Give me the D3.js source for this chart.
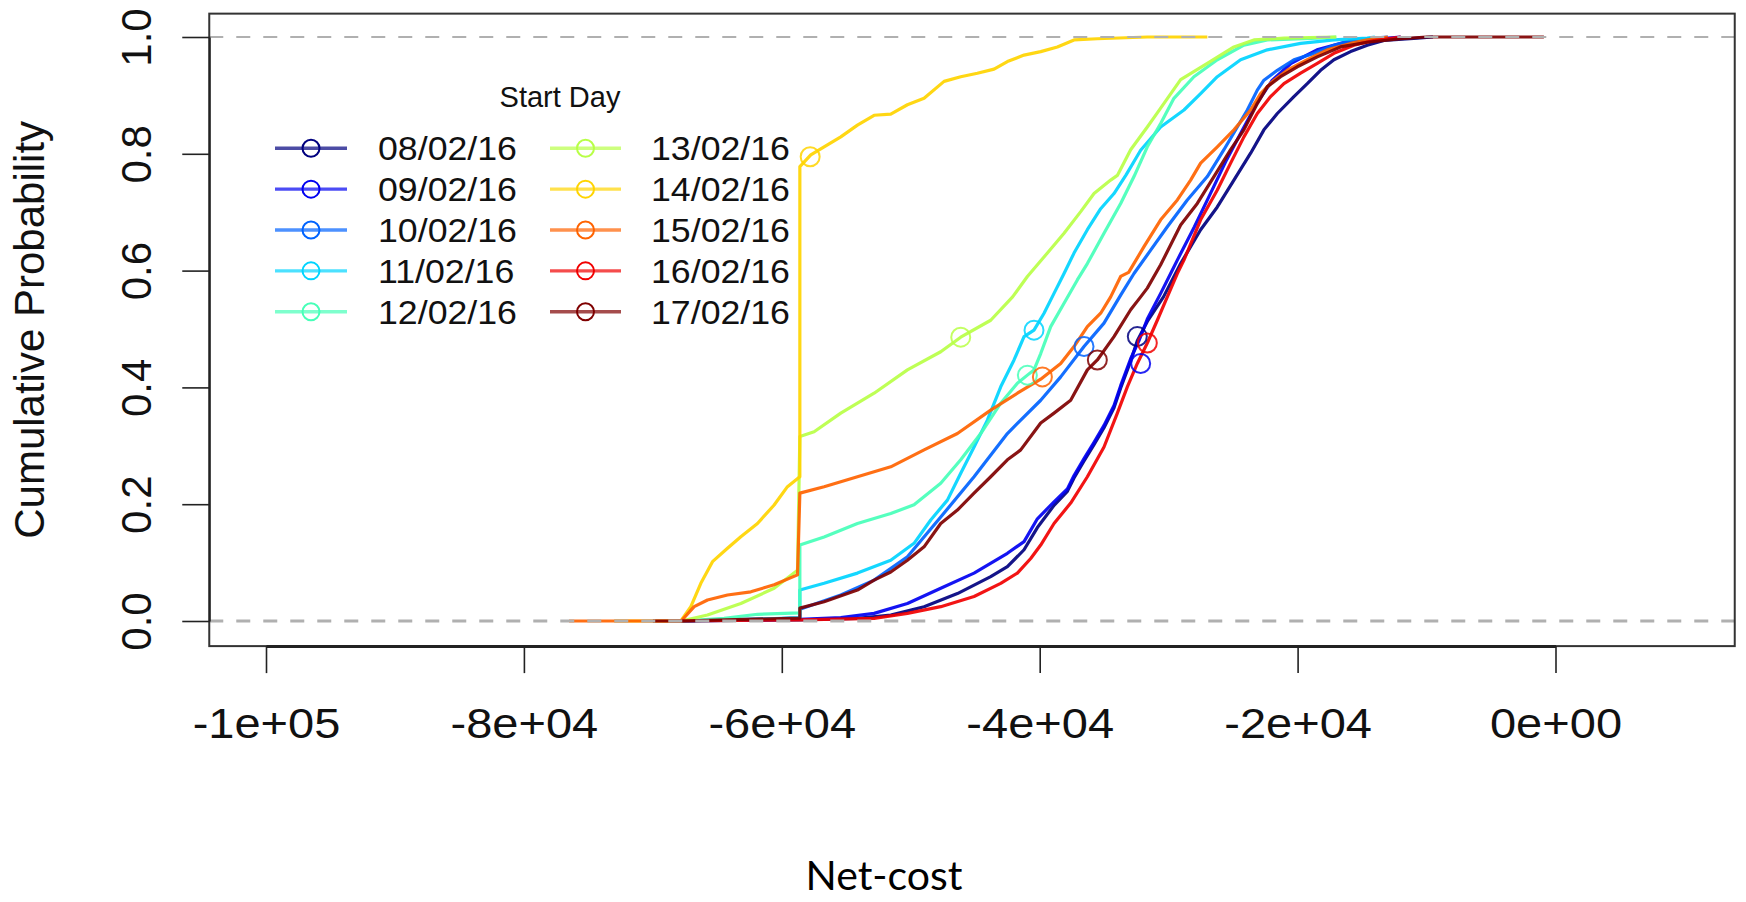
<!DOCTYPE html>
<html><head><meta charset="utf-8">
<script src="https://cdn.jsdelivr.net/npm/d3@7"></script>
<style>body{margin:0;background:#fff;} svg{display:block;}</style>
</head><body><svg id="chart" width="1746" height="902"></svg>
<script>
// ---------- DATA ----------
const startDays = ["08/02/16","09/02/16","10/02/16","11/02/16","12/02/16","13/02/16","14/02/16","15/02/16","16/02/16","17/02/16"];
const seriesColors = ["#00007F","#0000F1","#0063FF","#00D4FF","#47FFB8","#B8FF47","#FFD400","#FF6300","#F10000","#7F0000"];

// [net-cost, cumulative probability]
const cdf_0802 = [[-67800,0],[-58600,0.002],[-54134,0.0045],[-51550,0.010],[-48967,0.0245],[-46381,0.047],[-43799,0.076],[-42506,0.093],[-41214,0.122],[-40180,0.160],[-38889,0.198],[-37855,0.222],[-37338,0.245],[-36563,0.274],[-35788,0.302],[-35013,0.331],[-34238,0.365],[-33721,0.399],[-32946,0.445],[-32430,0.480],[-31654,0.513],[-30400,0.555],[-29070,0.612],[-27520,0.670],[-26226,0.709],[-24939,0.755],[-23643,0.801],[-22612,0.841],[-21574,0.869],[-20287,0.898],[-19250,0.920],[-18217,0.943],[-17183,0.961],[-15891,0.975],[-14597,0.986],[-13310,0.994],[-10720,0.998],[-9500,1]];
const cdf_0902 = [[-67800,0],[-58600,0.003],[-55426,0.006],[-52842,0.013],[-50258,0.030],[-47674,0.056],[-45090,0.082],[-42506,0.116],[-41214,0.136],[-40180,0.175],[-38889,0.204],[-37855,0.226],[-37338,0.249],[-36563,0.278],[-35788,0.306],[-35013,0.335],[-34238,0.369],[-33721,0.403],[-32946,0.449],[-32300,0.480],[-31654,0.517],[-30620,0.561],[-29845,0.595],[-29328,0.618],[-28000,0.675],[-26800,0.730],[-25500,0.790],[-24300,0.840],[-23200,0.885],[-22000,0.925],[-20500,0.955],[-18500,0.978],[-16000,0.993],[-12000,1]];
const cdf_1002 = [[-67800,0],[-58600,0.005],[-58600,0.020],[-55426,0.0445],[-52842,0.070],[-50258,0.110],[-47674,0.178],[-45090,0.247],[-42506,0.321],[-41473,0.344],[-39922,0.378],[-38371,0.418],[-36563,0.470],[-35013,0.510],[-33721,0.558],[-32687,0.595],[-31395,0.635],[-30103,0.675],[-28553,0.721],[-27002,0.761],[-25713,0.807],[-24675,0.846],[-23900,0.875],[-23125,0.909],[-22612,0.926],[-21574,0.943],[-20287,0.961],[-18736,0.972],[-17183,0.986],[-15633,0.995],[-14085,0.998],[-13000,1]];
const cdf_1102 = [[-67800,0],[-63178,0.002],[-58600,0.006],[-58600,0.053],[-56719,0.0645],[-54134,0.082],[-51550,0.104],[-49744,0.133],[-48450,0.173],[-47157,0.207],[-46124,0.253],[-45090,0.298],[-44057,0.344],[-43023,0.401],[-41990,0.447],[-41214,0.487],[-40442,0.498],[-39663,0.527],[-38889,0.561],[-38112,0.595],[-37338,0.630],[-36304,0.670],[-35271,0.706],[-34238,0.732],[-33300,0.764],[-32171,0.806],[-30620,0.846],[-28812,0.875],[-27520,0.903],[-26226,0.932],[-24419,0.961],[-22349,0.978],[-19767,0.989],[-17183,0.995],[-14597,0.998],[-14000,1]];
const cdf_1202 = [[-67800,0],[-64470,0.0045],[-61886,0.0115],[-58600,0.014],[-58600,0.130],[-56719,0.144],[-54134,0.167],[-51550,0.184],[-49744,0.199],[-47674,0.236],[-46124,0.276],[-44574,0.321],[-43023,0.373],[-41731,0.407],[-40955,0.421],[-40442,0.430],[-39922,0.458],[-39146,0.504],[-38112,0.544],[-37080,0.584],[-36304,0.612],[-35013,0.664],[-33721,0.715],[-32687,0.761],[-31654,0.812],[-30620,0.852],[-29590,0.895],[-28040,0.932],[-26226,0.961],[-24163,0.986],[-22349,0.995],[-18473,0.998],[-17000,1]];
const cdf_1302 = [[-67800,0],[-65762,0.0103],[-63178,0.030],[-60594,0.056],[-58780,0.087],[-58600,0.316],[-57494,0.324],[-55426,0.356],[-52842,0.390],[-50258,0.430],[-47674,0.461],[-46124,0.486],[-43799,0.515],[-42100,0.555],[-40955,0.590],[-39404,0.630],[-38112,0.664],[-36820,0.701],[-35788,0.732],[-34496,0.755],[-33978,0.763],[-32946,0.807],[-31654,0.846],[-30879,0.870],[-29070,0.927],[-27002,0.955],[-24939,0.983],[-23388,0.995],[-21062,0.998],[-17000,1]];
const cdf_1402 = [[-73000,0],[-67830,0],[-67054,0.0245],[-66279,0.0645],[-65375,0.1016],[-64212,0.1245],[-63178,0.1444],[-61886,0.167],[-60594,0.1986],[-59560,0.230],[-58600,0.247],[-58600,0.778],[-57752,0.798],[-56719,0.812],[-55426,0.829],[-54134,0.849],[-52842,0.866],[-51550,0.868],[-50258,0.884],[-48967,0.895],[-47416,0.924],[-46124,0.932],[-44832,0.938],[-43540,0.945],[-42506,0.958],[-41214,0.969],[-39922,0.975],[-38629,0.983],[-37338,0.995],[-35530,0.997],[-31650,1],[-27000,1]];
const cdf_1502 = [[-76500,0],[-67800,0],[-66797,0.0245],[-65762,0.036],[-64212,0.0445],[-62403,0.050],[-60594,0.062],[-58780,0.079],[-58600,0.219],[-56719,0.230],[-54134,0.247],[-51550,0.264],[-48967,0.293],[-46381,0.321],[-43799,0.361],[-41731,0.390],[-39922,0.414],[-38371,0.441],[-37338,0.470],[-36304,0.504],[-35271,0.527],[-34496,0.555],[-33721,0.590],[-33100,0.597],[-31912,0.641],[-30620,0.687],[-29325,0.721],[-28295,0.755],[-27520,0.784],[-26226,0.812],[-24939,0.841],[-23643,0.875],[-22868,0.903],[-21837,0.926],[-20800,0.943],[-19250,0.961],[-17700,0.978],[-15900,0.989],[-14600,0.995],[-13000,1]];
const cdf_1602 = [[-67800,0],[-58600,0.002],[-52842,0.0045],[-50258,0.013],[-47674,0.0245],[-45090,0.042],[-43023,0.0645],[-41731,0.082],[-40697,0.107],[-39922,0.130],[-38889,0.167],[-37597,0.202],[-36304,0.247],[-35013,0.298],[-33978,0.356],[-33204,0.401],[-32429,0.441],[-31654,0.476],[-30879,0.515],[-30103,0.555],[-29328,0.595],[-28812,0.618],[-27520,0.687],[-26226,0.738],[-25194,0.784],[-24163,0.829],[-23125,0.869],[-22093,0.898],[-21062,0.920],[-19767,0.938],[-18473,0.955],[-17183,0.972],[-15633,0.986],[-14085,0.994],[-12000,1]];
const cdf_1702 = [[-70000,0],[-67800,0],[-58600,0.005],[-58600,0.022],[-56719,0.033],[-54134,0.053],[-52842,0.070],[-51550,0.084],[-50258,0.104],[-48967,0.127],[-47674,0.167],[-46381,0.190],[-45090,0.219],[-43799,0.247],[-42506,0.276],[-41473,0.293],[-39922,0.339],[-38889,0.356],[-37597,0.378],[-36304,0.430],[-35530,0.447],[-34238,0.487],[-32946,0.533],[-32171,0.555],[-31654,0.570],[-30620,0.610],[-29070,0.678],[-27778,0.715],[-26488,0.761],[-25194,0.807],[-24163,0.841],[-23125,0.886],[-22349,0.915],[-21318,0.932],[-20023,0.949],[-18473,0.966],[-16667,0.983],[-14597,0.991],[-12016,0.997],[-10000,1],[-900,1]];

const markerX = [-32430,-32170,-36563,-40442,-40955,-46124,-57800,-39791,-31654,-35530];
const markerY = [0.487,0.441,0.470,0.498,0.421,0.486,0.795,0.418,0.476,0.447];

const xTickValues = [-100000,-80000,-60000,-40000,-20000,0];
const xTickLabels = ["-1e+05","-8e+04","-6e+04","-4e+04","-2e+04","0e+00"];
const yTickValues = [0,0.2,0.4,0.6,0.8,1];
const yTickLabels = ["0.0","0.2","0.4","0.6","0.8","1.0"];
const xTitle = "Net-cost";
const yTitle = "Cumulative Probability";
const legendTitle = "Start Day";

const seriesData = [cdf_0802,cdf_0902,cdf_1002,cdf_1102,cdf_1202,cdf_1302,cdf_1402,cdf_1502,cdf_1602,cdf_1702];

// ---------- DRAW ----------
const svg = d3.select("#chart");
const FONT = "'Liberation Sans', Arial, Helvetica, sans-serif";
const x = d3.scaleLinear().domain([-100000, 0]).range([266, 1555.5]);
const y = d3.scaleLinear().domain([0, 1]).range([621, 37]);
const bx0 = x(-104400), bx1 = x(13900), by0 = y(1.04), by1 = y(-0.043);

svg.append("defs").append("clipPath").attr("id","clip")
  .append("rect").attr("x",bx0).attr("y",by0).attr("width",bx1-bx0).attr("height",by1-by0);

const plot = svg.append("g").attr("clip-path","url(#clip)");
const line = d3.line().x(d=>x(d[0])).y(d=>y(d[1]));

seriesData.forEach((s,i)=>{
  plot.append("path").datum(s).attr("d",line)
    .attr("fill","none").attr("stroke",seriesColors[i])
    .attr("stroke-width",3.2).attr("stroke-linejoin","round").attr("stroke-opacity",0.92);
});
markerX.forEach((mx,i)=>{
  plot.append("circle").attr("cx",x(mx)).attr("cy",y(markerY[i])).attr("r",9.5)
    .attr("fill","none").attr("stroke",seriesColors[i]).attr("stroke-width",2).attr("stroke-opacity",0.85);
});

// reference dashed lines
[[0,3],[1,2.2]].forEach(([v,w])=>{
  svg.append("line").attr("x1",bx0).attr("x2",bx1).attr("y1",y(v)).attr("y2",y(v))
    .attr("stroke","#b0b0b0").attr("stroke-width",w).attr("stroke-dasharray","14,13");
});

// box
svg.append("rect").attr("x",bx0).attr("y",by0).attr("width",bx1-bx0).attr("height",by1-by0)
  .attr("fill","none").attr("stroke","#333").attr("stroke-width",2);

// x axis
const gx = svg.append("g").attr("transform",`translate(0,${by1})`)
  .call(d3.axisBottom(x).tickValues(xTickValues).tickFormat((d,i)=>xTickLabels[i]).tickSize(27).tickSizeOuter(0));
gx.select(".domain").attr("stroke","#222").attr("stroke-width",3);
gx.selectAll(".tick line").attr("stroke","#222").attr("stroke-width",1.6);
gx.selectAll(".tick text").attr("y",92).attr("dy",0).attr("fill","#111")
  .attr("transform","scale(1.12,1)")
  .style("font-family",FONT).style("font-size","42px");

// y axis
const gy = svg.append("g").attr("transform",`translate(${bx0},0)`)
  .call(d3.axisLeft(y).tickValues(yTickValues).tickFormat((d,i)=>yTickLabels[i]).tickSize(27).tickSizeOuter(0));
gy.select(".domain").attr("stroke","#222").attr("stroke-width",2);
gy.selectAll(".tick line").attr("stroke","#222").attr("stroke-width",1.6);
gy.selectAll(".tick text").attr("x",0).attr("y",0).attr("dy",0)
  .attr("transform","translate(-58,0) rotate(-90)").attr("text-anchor","middle").attr("fill","#111")
  .style("font-family",FONT).style("font-size","42px");

// titles
svg.append("text").attr("transform",`translate(44,${(by0+by1)/2}) rotate(-90)`)
  .attr("text-anchor","middle").attr("fill","#111")
  .style("font-family",FONT).style("font-size","42px").text(yTitle);
svg.append("text").attr("x",884).attr("y",890).attr("text-anchor","middle").attr("fill","#000")
  .style("font-family","Lato, 'Open Sans', sans-serif").style("font-size","41px").text(xTitle);

// legend
const lg = svg.append("g");
lg.append("text").attr("x",560).attr("y",107).attr("text-anchor","middle").attr("fill","#111")
  .style("font-family",FONT).style("font-size","29px").text(legendTitle);
const colLine = [[275,347],[550,621]], colText = [378,651];
startDays.forEach((lab,i)=>{
  const c = Math.floor(i/5), r = i%5;
  const cy = 148.3 + r*40.85;
  lg.append("line").attr("x1",colLine[c][0]).attr("x2",colLine[c][1]).attr("y1",cy).attr("y2",cy)
    .attr("stroke",seriesColors[i]).attr("stroke-width",3.4).attr("stroke-opacity",0.7);
  lg.append("circle").attr("cx",(colLine[c][0]+colLine[c][1])/2).attr("cy",cy).attr("r",8.5)
    .attr("fill","none").attr("stroke",seriesColors[i]).attr("stroke-width",2);
  lg.append("text").attr("transform",`translate(${colText[c]},${cy+12}) scale(1.05,1)`).attr("fill","#111")
    .style("font-family",FONT).style("font-size","34px").text(lab);
});
</script></body></html>
